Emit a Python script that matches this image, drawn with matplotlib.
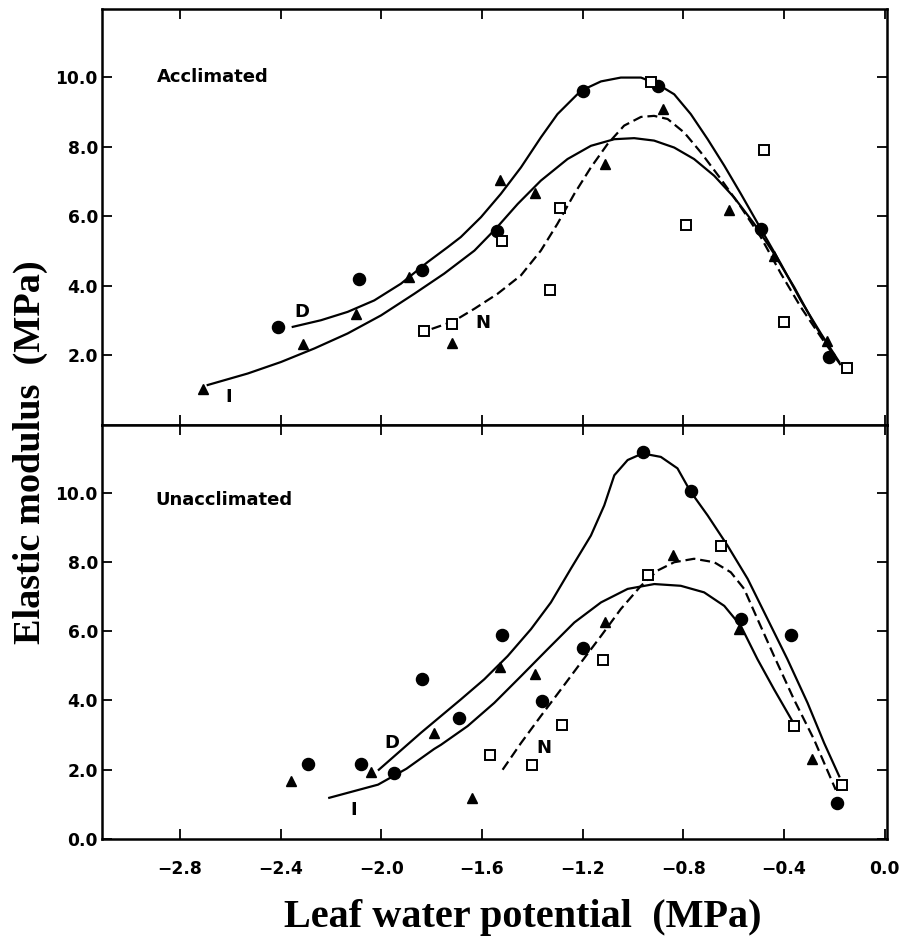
import matplotlib
matplotlib.use("Agg")
import matplotlib.pyplot as plt

# ---- Acclimated (top panel) ----
acc_d_x = [-2.41, -2.09, -1.84, -1.54, -1.20, -0.90, -0.49, -0.22]
acc_d_y = [2.83, 4.20, 4.46, 5.57, 9.60, 9.73, 5.63, 1.94]
acc_i_x = [-2.71, -2.31, -2.10, -1.89, -1.72, -1.53, -1.39, -1.11, -0.88, -0.62, -0.44, -0.23]
acc_i_y = [1.03, 2.34, 3.20, 4.26, 2.37, 7.03, 6.66, 7.49, 9.09, 6.17, 4.86, 2.40]
acc_n_x = [-1.83, -1.72, -1.52, -1.33, -1.29, -0.93, -0.79, -0.48, -0.40, -0.15]
acc_n_y = [2.69, 2.91, 5.29, 3.87, 6.22, 9.86, 5.74, 7.90, 2.97, 1.63]

# fitted curves
acc_dfit_x = [-2.352, -2.24, -2.134, -2.028, -1.922, -1.816, -1.736, -1.684, -1.604, -1.525, -1.445,
              -1.366, -1.30, -1.207, -1.127, -1.048, -0.968, -0.902, -0.836, -0.770, -0.703, -0.637,
              -0.571, -0.492, -0.412, -0.333, -0.253, -0.18]
acc_dfit_y = [2.82, 3.01, 3.25, 3.58, 4.06, 4.68, 5.11, 5.40, 5.97, 6.64, 7.40, 8.26, 8.93, 9.60, 9.87,
              9.98, 9.98, 9.79, 9.50, 8.93, 8.21, 7.45, 6.64, 5.64, 4.63, 3.58, 2.63, 1.81]
acc_ifit_x = [-2.69, -2.531, -2.399, -2.266, -2.134, -2.001, -1.869, -1.75, -1.63, -1.545, -1.458,
              -1.366, -1.26, -1.167, -1.074, -0.995, -0.916, -0.836, -0.757, -0.677, -0.598, -0.518,
              -0.439, -0.359, -0.28, -0.247]
acc_ifit_y = [1.15, 1.48, 1.81, 2.20, 2.63, 3.15, 3.77, 4.35, 5.01, 5.64, 6.35, 7.02, 7.64, 8.02, 8.21,
              8.24, 8.17, 7.97, 7.64, 7.16, 6.54, 5.78, 4.92, 3.96, 2.91, 2.53]
acc_nfit_x = [-1.80, -1.713, -1.63, -1.538, -1.445, -1.366, -1.30, -1.233, -1.167, -1.101, -1.035,
              -0.968, -0.916, -0.862, -0.796, -0.73, -0.651, -0.571, -0.492, -0.412, -0.333, -0.253,
              -0.174]
acc_nfit_y = [2.76, 2.98, 3.34, 3.77, 4.30, 5.01, 5.78, 6.64, 7.40, 8.07, 8.60, 8.85, 8.88, 8.79, 8.40,
              7.83, 7.07, 6.26, 5.40, 4.35, 3.39, 2.53, 1.72]

# ---- Unacclimated (bottom panel) ----
una_d_x = [-2.29, -2.08, -1.95, -1.84, -1.69, -1.52, -1.36, -1.20, -0.96, -0.77, -0.57, -0.37, -0.19]
una_d_y = [2.17, 2.17, 1.91, 4.61, 3.50, 5.88, 3.98, 5.51, 11.16, 10.04, 6.35, 5.88, 1.04]
una_i_x = [-2.36, -2.04, -1.79, -1.64, -1.53, -1.39, -1.11, -0.84, -0.58, -0.29]
una_i_y = [1.68, 1.94, 3.07, 1.19, 4.96, 4.75, 6.27, 8.20, 6.06, 2.32]
una_n_x = [-1.57, -1.40, -1.28, -1.12, -0.94, -0.65, -0.36, -0.17]
una_n_y = [2.43, 2.14, 3.28, 5.16, 7.62, 8.46, 3.26, 1.57]

una_dfit_x = [-2.01, -1.842, -1.763, -1.684, -1.591, -1.498, -1.405, -1.326, -1.247, -1.167, -1.114,
              -1.074, -1.021, -0.962, -0.889, -0.823, -0.772, -0.703, -0.624, -0.544, -0.465, -0.386,
              -0.306, -0.24, -0.18]
una_dfit_y = [2.00, 3.07, 3.55, 4.03, 4.61, 5.28, 6.06, 6.83, 7.80, 8.76, 9.63, 10.50, 10.94, 11.13,
              11.03, 10.70, 10.04, 9.34, 8.47, 7.51, 6.35, 5.19, 3.93, 2.77, 1.81]
una_ifit_x = [-2.207, -2.013, -1.90, -1.79, -1.763, -1.657, -1.551, -1.445, -1.339, -1.233, -1.127,
              -1.021, -0.915, -0.81, -0.717, -0.637, -0.571, -0.505, -0.439, -0.37]
una_ifit_y = [1.19, 1.57, 2.03, 2.60, 2.72, 3.26, 3.93, 4.70, 5.48, 6.25, 6.83, 7.22, 7.36, 7.31, 7.12,
              6.73, 6.15, 5.19, 4.32, 3.45]
una_nfit_x = [-1.518, -1.445, -1.366, -1.286, -1.207, -1.127, -1.048, -0.968, -0.902, -0.836, -0.757,
              -0.677, -0.611, -0.558, -0.505, -0.439, -0.36, -0.28, -0.194]
una_nfit_y = [2.00, 2.77, 3.55, 4.32, 5.09, 5.86, 6.64, 7.31, 7.75, 7.99, 8.09, 7.99, 7.70, 7.22, 6.35,
              5.28, 4.03, 2.87, 1.42]

xticks = [-2.8, -2.4, -2.0, -1.6, -1.2, -0.8, -0.4, 0.0]

tick_font = dict(family="DejaVu Sans", weight="bold", size=12.3)
lab_font = dict(family="DejaVu Sans", weight="bold", size=13)

fig = plt.figure(figsize=(9.16, 9.36), dpi=100)
ax_top = fig.add_axes([0.1114, 0.5459, 0.857, 0.4445])
ax_bot = fig.add_axes([0.1114, 0.1036, 0.857, 0.4423])


def draw_panel(ax, d, i, n, dfit, ifit, nfit):
    ax.plot(dfit[0], dfit[1], color="black", lw=1.6, solid_joinstyle="round")
    ax.plot(ifit[0], ifit[1], color="black", lw=1.6, solid_joinstyle="round")
    ax.plot(nfit[0], nfit[1], color="black", lw=1.6, linestyle=(0, (4.5, 2.2)))
    ax.plot(d[0], d[1], "o", color="black", ms=8.7)
    ax.plot(i[0], i[1], "^", color="black", ms=7)
    ax.plot(n[0], n[1], "s", mfc="white", mec="black", mew=1.4, ms=6.5)
    ax.set_xlim(-3.11, 0.01)
    ax.set_ylim(0, 11.95)
    ax.set_xticks(xticks)
    ax.tick_params(direction="in", length=7, width=1.3, top=True, right=True)
    for s in ax.spines.values():
        s.set_linewidth(1.8)


draw_panel(ax_top, (acc_d_x, acc_d_y), (acc_i_x, acc_i_y), (acc_n_x, acc_n_y),
           (acc_dfit_x, acc_dfit_y), (acc_ifit_x, acc_ifit_y), (acc_nfit_x, acc_nfit_y))
draw_panel(ax_bot, (una_d_x, una_d_y), (una_i_x, una_i_y), (una_n_x, una_n_y),
           (una_dfit_x, una_dfit_y), (una_ifit_x, una_ifit_y), (una_nfit_x, una_nfit_y))

ax_top.set_yticks([2, 4, 6, 8, 10])
ax_top.set_yticklabels([f"{v:.1f}" for v in [2, 4, 6, 8, 10]], fontdict=tick_font)
ax_top.tick_params(labelbottom=False, pad=3)
ax_bot.set_yticks([0, 2, 4, 6, 8, 10])
ax_bot.set_yticklabels([f"{v:.1f}" for v in [0, 2, 4, 6, 8, 10]], fontdict=tick_font)
ax_bot.set_xticklabels([f"{v:.1f}".replace("-", "\u2212") for v in xticks], fontdict=tick_font)
ax_bot.tick_params(axis="x", pad=15)
ax_bot.tick_params(axis="y", pad=3)

ax_top.text(-2.89, 10.0, "Acclimated", va="center", ha="left", **lab_font)
ax_top.text(-2.315, 3.26, "D", va="center", ha="center", **lab_font)
ax_top.text(-2.605, 0.8, "I", va="center", ha="center", **lab_font)
ax_top.text(-1.596, 2.94, "N", va="center", ha="center", **lab_font)

ax_bot.text(-2.90, 9.8, "Unacclimated", va="center", ha="left", **lab_font)
ax_bot.text(-1.96, 2.78, "D", va="center", ha="center", **lab_font)
ax_bot.text(-2.11, 0.84, "I", va="center", ha="center", **lab_font)
ax_bot.text(-1.354, 2.64, "N", va="center", ha="center", **lab_font)

fig.text(30 / 916, 1 - 452 / 936, "Elastic modulus  (MPa)", rotation=90, ha="center", va="center",
         family="Liberation Serif", weight="bold", size=27.5)
fig.text(523 / 916, 1 - 918 / 936, "Leaf water potential  (MPa)", ha="center", va="center",
         family="Liberation Serif", weight="bold", size=29)

fig.savefig("out.png", dpi=100)
